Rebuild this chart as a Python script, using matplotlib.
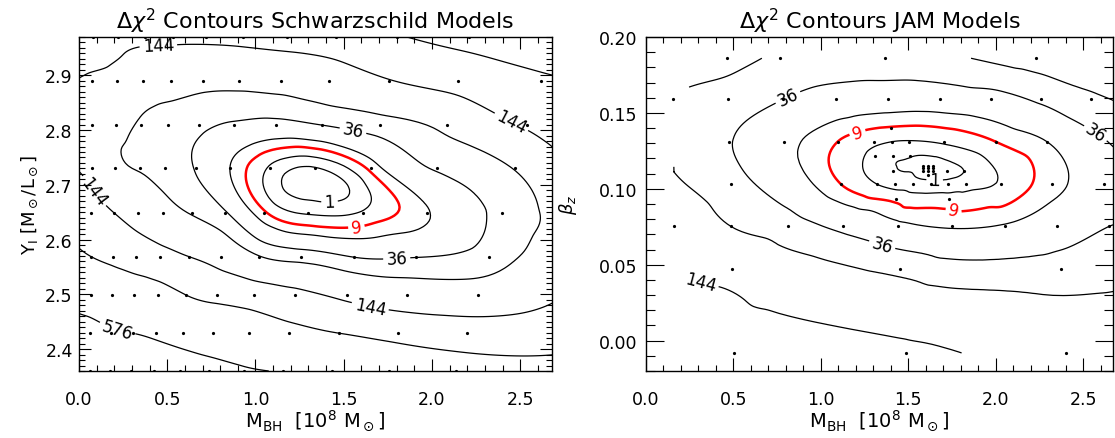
import numpy as np
import matplotlib
matplotlib.use('Agg')
import matplotlib.pyplot as plt
import matplotlib.tri as mtri
from matplotlib.ticker import MultipleLocator, FormatStrFormatter

# ---- Schwarzschild models: grid rows (upsilon), M_BH per row, delta chi^2 per row
swd_ups = [2.970, 2.890, 2.809, 2.730, 2.649, 2.569, 2.499, 2.429, 2.360]
swd_mbh = [
    [0.078, 0.222, 0.373, 0.533, 0.719, 0.930, 1.177, 1.454, 1.802, 2.207, 2.687],
    [0.076, 0.216, 0.363, 0.519, 0.700, 0.905, 1.145, 1.415, 1.754, 2.148, 2.615],
    [0.074, 0.208, 0.354, 0.505, 0.679, 0.880, 1.115, 1.379, 1.707, 2.085, 2.539],
    [0.072, 0.204, 0.343, 0.490, 0.661, 0.855, 1.082, 1.337, 1.657, 2.029, 2.470],
    [0.070, 0.198, 0.333, 0.476, 0.642, 0.829, 1.050, 1.297, 1.608, 1.969, 2.397],
    [0.068, 0.192, 0.323, 0.461, 0.622, 0.804, 1.018, 1.258, 1.559, 1.909, 2.324],
    [0.066, 0.187, 0.314, 0.449, 0.605, 0.783, 0.990, 1.224, 1.517, 1.858, 2.261],
    [0.064, 0.181, 0.304, 0.436, 0.588, 0.760, 0.962, 1.189, 1.474, 1.805, 2.198],
    [0.062, 0.176, 0.296, 0.424, 0.572, 0.739, 0.935, 1.155, 1.432, 1.754, 2.135],
]
swd_dchi2 = [
    [182, 165, 160, 160, 162, 170, 185, 205, 250, 290, 335],
    [132, 121, 96, 86, 78, 77, 83, 98, 140, 182, 240],
    [90, 76, 59, 49, 41, 33, 29, 36, 49, 76, 154],
    [117, 76, 62, 49, 35, 16, 3.4, 0.8, 11, 38, 66],
    [176, 144, 113, 86, 61, 38, 10, 3.5, 4.5, 15, 43],
    [256, 228, 198, 172, 144, 112, 66, 50, 35, 35, 47],
    [437, 386, 350, 317, 256, 221, 198, 166, 125, 98, 92],
    [676, 610, 576, 534, 475, 420, 357, 300, 256, 219, 194],
    [900, 840, 810, 780, 730, 676, 610, 560, 484, 390, 320],
]
# best fit and two points read along the flat valley floor
swd_floor_mbh = [1.34, 1.18, 1.50]
swd_floor_ups = [2.700, 2.712, 2.690]
swd_floor_dchi2 = [0.0, 0.6, 0.6]
# estimated values along the frame edges
swd_edge_ups = [2.36, 2.43, 2.50, 2.57, 2.65, 2.73, 2.81, 2.89, 2.97]
swd_left_edge = [960, 697, 462, 276, 196, 139, 100, 140, 196]
swd_right_edge_ups = [2.36, 2.43, 2.50, 2.57, 2.65, 2.73, 2.81, 2.89]
swd_right_edge = [300, 202, 135, 98, 74, 119, 174, 247]

# ---- JAM models
jam_beta = [0.186, 0.159, 0.140, 0.131, 0.1217, 0.1153, 0.1136, 0.112, 0.1094,
            0.1032, 0.0935, 0.0752, 0.0474, -0.0081]
jam_mbh = [
    [0.461, 0.766, 1.366, 2.232],
    [0.156, 0.470, 0.785, 1.084, 1.385, 1.680, 1.975, 2.261, 2.547],
    [1.398],
    [0.476, 0.790, 1.095, 1.303, 1.404, 1.505, 1.705, 2.000, 2.293],
    [1.309, 1.410, 1.512],
    [1.581, 1.611, 1.642],
    [1.581, 1.611, 1.642],
    [1.413, 1.581, 1.611, 1.642, 1.722, 1.817],
    [1.611],
    [0.484, 1.113, 1.318, 1.423, 1.524, 1.627, 1.728, 1.827, 2.027, 2.322, 2.617],
    [1.427, 1.731],
    [0.162, 0.486, 0.810, 1.128, 1.438, 1.747, 2.051, 2.350, 2.646],
    [0.493, 1.455, 2.375],
    [0.503, 1.486, 2.404],
]
jam_dchi2 = [
    [80, 58, 53, 80],
    [62, 48, 36, 27, 24, 24, 28, 40, 59],
    [8.5],
    [37, 20, 9, 5, 4, 3.7, 4.6, 9, 16],
    [2.9, 1.4, 1.1],
    [0.05, 0.02, 0.04],
    [0.03, 0.0, 0.02],
    [1.2, 0.08, 0.05, 0.07, 0.4, 1.0],
    [0.27],
    [45, 9, 4, 2.5, 2.2, 1.8, 1.7, 2.6, 4.5, 12.7, 25],
    [7.5, 5.9],
    [104, 64, 47, 31, 19, 15, 17, 26, 36],
    [115, 55, 46],
    [230, 165, 110],
]
# estimated values at the left hull side and beyond the right frame
jam_left_edge = (0.159, 0.128, 56)
jam_edge_beta = [0.186, 0.159, 0.131, 0.103, 0.075, 0.047, -0.008]
jam_right_edge = [85, 66, 40, 28, 37, 52, 110]

plain_levels = [4, 16, 64, 256]
labelled = [1, 9, 36, 144, 576]

swd_label_pos = [(0.45, 2.948), (2.45, 2.815), (0.05, 2.68), (1.55, 2.795),
                 (1.42, 2.662), (1.57, 2.628), (1.80, 2.567), (1.65, 2.478),
                 (0.22, 2.440)]
jam_label_pos = [(0.80, 0.163), (1.20, 0.141), (1.65, 0.1055), (1.76, 0.086),
                 (2.55, 0.133), (1.35, 0.063), (0.30, 0.042)]


def flatten(rows_y, rows_x, rows_z):
    xs, ys, zs = [], [], []
    for y, xr, zr in zip(rows_y, rows_x, rows_z):
        xs += list(xr)
        ys += [y] * len(xr)
        zs += list(zr)
    return np.array(xs, float), np.array(ys, float), np.array(zs, float)


def smooth_field(x, y, z, xlim, ylim, aspect, kind):
    # triangulate in frame-normalised coords so rows and columns weigh alike;
    # interpolate sqrt(1 + dchi2): smooth at the minimum, near-linear outside
    xn = (x - xlim[0]) / (xlim[1] - xlim[0])
    yn = (y - ylim[0]) / (ylim[1] - ylim[0]) * aspect
    tri = mtri.Triangulation(xn, yn)
    fz = np.sqrt(1.0 + z)
    interp = mtri.CubicTriInterpolator(tri, fz, kind=kind)
    rtri, rz = mtri.UniformTriRefiner(tri).refine_field(fz, interp, subdiv=4)
    rx = rtri.x * (xlim[1] - xlim[0]) + xlim[0]
    ry = rtri.y / aspect * (ylim[1] - ylim[0]) + ylim[0]
    return mtri.Triangulation(rx, ry, rtri.triangles), rz ** 2 - 1.0


def draw_panel(ax, x, y, z, dots_x, dots_y, xlim, ylim, label_pos, kind):
    ax.set_xlim(*xlim)
    ax.set_ylim(*ylim)
    pos = ax.get_position()
    aspect = pos.height * 439 / (pos.width * 1115)
    t, rz = smooth_field(x, y, z, xlim, ylim, aspect, kind)
    ax.tricontour(t, rz, levels=plain_levels, colors='black', linewidths=0.9)
    colors = ['red' if lv == 9 else 'black' for lv in labelled]
    widths = [1.8 if lv == 9 else 0.9 for lv in labelled]
    cs = ax.tricontour(t, rz, levels=labelled, colors=colors, linewidths=widths)
    ax.clabel(cs, manual=label_pos, fmt='%d', fontsize=12,
              inline=True, inline_spacing=3)
    ax.plot(dots_x, dots_y, 'o', ms=2.3, color='black', mec='none')
    ax.set_xlim(*xlim)
    ax.set_ylim(*ylim)


fig = plt.figure(figsize=(11.15, 4.39), dpi=100)
ax1 = fig.add_axes([79 / 1115, 1 - 372 / 439, 473 / 1115, 334 / 439])
ax2 = fig.add_axes([646 / 1115, 1 - 372 / 439, 467 / 1115, 334 / 439])

# left panel
sx, sy, sz = flatten(swd_ups, swd_mbh, swd_dchi2)
fx = np.concatenate([sx, swd_floor_mbh, np.zeros(len(swd_edge_ups)),
                     np.full(len(swd_right_edge_ups), 2.70)])
fy = np.concatenate([sy, swd_floor_ups, swd_edge_ups, swd_right_edge_ups])
fz = np.concatenate([sz, swd_floor_dchi2, swd_left_edge, swd_right_edge])
draw_panel(ax1, fx, fy, fz, sx, sy, (0, 2.68), (2.36, 2.97), swd_label_pos, 'min_E')

# right panel
jx, jy, jz = flatten(jam_beta, jam_mbh, jam_dchi2)
gx = np.concatenate([jx, [jam_left_edge[0]], np.full(len(jam_edge_beta), 2.70)])
gy = np.concatenate([jy, [jam_left_edge[1]], jam_edge_beta])
gz = np.concatenate([jz, [jam_left_edge[2]], jam_right_edge])
draw_panel(ax2, gx, gy, gz, jx, jy, (0, 2.67), (-0.02, 0.20), jam_label_pos, 'geom')

ax1.set_title(r'$\Delta\chi^2$ Contours Schwarzschild Models', fontsize=16, pad=6)
ax2.set_title(r'$\Delta\chi^2$ Contours JAM Models', fontsize=16, pad=6)
for ax in (ax1, ax2):
    ax.set_xlabel(r'$\mathrm{M_{BH}\ \ [10^8\ M_\odot]}$', fontsize=14, labelpad=-1)
    ax.xaxis.set_major_locator(MultipleLocator(0.5))
    ax.xaxis.set_minor_locator(MultipleLocator(0.1))
    ax.xaxis.set_major_formatter(FormatStrFormatter('%.1f'))
    ax.tick_params(which='both', direction='in', top=True, right=True,
                   labelsize=12.5, width=0.8)
    ax.tick_params(axis='x', pad=14)
    for s in ax.spines.values():
        s.set_linewidth(1.0)

ax1.set_ylabel(r'$\Upsilon_\mathrm{I}\ [\mathrm{M_\odot/L_\odot}]$', fontsize=13, labelpad=4)
ax1.yaxis.set_major_locator(MultipleLocator(0.1))
ax1.yaxis.set_minor_locator(MultipleLocator(0.01))
ax1.yaxis.set_major_formatter(FormatStrFormatter('%.1f'))
ax1.tick_params(which='major', length=8.6)
ax1.tick_params(which='minor', length=4.3)
ax1.tick_params(axis='y', pad=4.5)

ax2.set_ylabel(r'$\beta_z$', fontsize=13, labelpad=14)
ax2.yaxis.set_major_locator(MultipleLocator(0.05))
ax2.yaxis.set_minor_locator(MultipleLocator(0.01))
ax2.yaxis.set_major_formatter(FormatStrFormatter('%.2f'))
ax2.tick_params(axis='x', which='major', length=9.4)
ax2.tick_params(axis='x', which='minor', length=4.2)
ax2.tick_params(axis='y', which='major', length=13)
ax2.tick_params(axis='y', which='minor', length=6.5)
ax2.tick_params(axis='y', pad=6.5)

fig.savefig('out.png', dpi=100)
